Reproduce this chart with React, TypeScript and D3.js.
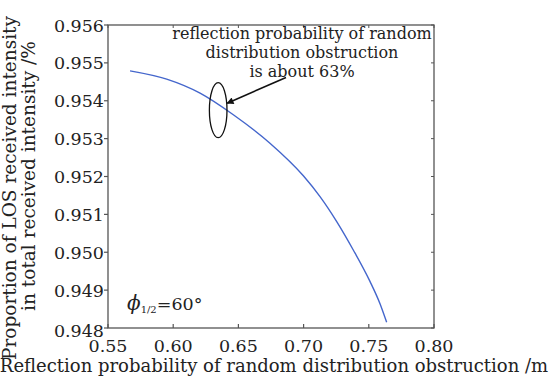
import React from "react";
import * as d3 from "d3";

const xValues = [0.5669, 0.5950, 0.6206, 0.6461, 0.6742, 0.6998, 0.7126, 0.7254, 0.7381, 0.7509, 0.7586, 0.7637];
const yValues = [0.95479, 0.95457, 0.95420, 0.95363, 0.95288, 0.95202, 0.95147, 0.95081, 0.95006, 0.94923, 0.94864, 0.94815];
const xTicks = [0.55, 0.6, 0.65, 0.7, 0.75, 0.8];
const yTicks = [0.948, 0.949, 0.95, 0.951, 0.952, 0.953, 0.954, 0.955, 0.956];
const annotationLines = ["reflection probability of random", "distribution obstruction", "is about 63%"];
const markPoint = { x: 0.6345, y: 0.95375 };

const W = 553;
const H = 380;
const FONT = "'DejaVu Serif', serif";

export default function App() {
  const x = d3.scaleLinear().domain([0.55, 0.8]).range([108, 434]);
  const y = d3.scaleLinear().domain([0.948, 0.956]).range([328, 25]);
  const data = xValues.map((v, i) => [v, yValues[i]] as [number, number]);
  const line = d3
    .line<[number, number]>()
    .x((d) => x(d[0]))
    .y((d) => y(d[1]))
    .curve(d3.curveMonotoneX);

  const [x0, x1] = x.range();
  const [y0, y1] = y.range();
  const ex = x(markPoint.x);
  const ey = y(markPoint.y);

  return (
    <svg
      width={W}
      height={H}
      style={{ position: "absolute", left: 0, top: 0, background: "#fff" }}
      fontFamily={FONT}
    >
      <defs>
        <marker id="ah" viewBox="0 0 10 10" refX="9" refY="5" markerWidth="9" markerHeight="7" orient="auto" markerUnits="userSpaceOnUse">
          <path d="M0,0 L10,5 L0,10 z" fill="#111" />
        </marker>
      </defs>
      {/* frame */}
      <rect x={x0} y={y1} width={x1 - x0} height={y0 - y1} fill="none" stroke="#555" strokeWidth={1.3} />
      {/* x ticks */}
      {xTicks.map((t) => (
        <g key={"xt" + t}>
          <line x1={x(t)} x2={x(t)} y1={y0} y2={y0 - 4} stroke="#555" strokeWidth={1.2} />
          <line x1={x(t)} x2={x(t)} y1={y1} y2={y1 + 3} stroke="#555" strokeWidth={1} />
          <text x={x(t)} y={352} textAnchor="middle" fontSize={17.5} fill="#222">
            {t.toFixed(2)}
          </text>
        </g>
      ))}
      {/* y ticks */}
      {yTicks.map((t) => (
        <g key={"yt" + t}>
          <line x1={x0} x2={x0 - 4} y1={y(t)} y2={y(t)} stroke="#555" strokeWidth={1.2} />
          <line x1={x1} x2={x1 - 3} y1={y(t)} y2={y(t)} stroke="#555" strokeWidth={1} />
          <text x={104} y={y(t) + (t === 0.948 ? 9 : 6.5)} textAnchor="end" fontSize={17.5} fill="#222">
            {t.toFixed(3)}
          </text>
        </g>
      ))}
      {/* curve */}
      <path d={line(data) || ""} fill="none" stroke="#4466cc" strokeWidth={1.4} />
      {/* annotation */}
      <ellipse cx={ex} cy={ey} rx={8.8} ry={27.5} fill="none" stroke="#111" strokeWidth={1.3} />
      <line x1={286} x2={ex + 9} y1={77.5} y2={ey - 7} stroke="#111" strokeWidth={1.6} markerEnd="url(#ah)" />
      {annotationLines.map((s, i) => (
        <text key={s} x={302} y={39 + i * 19} textAnchor="middle" fontSize={16} fill="#222">
          {s}
        </text>
      ))}
      {/* phi label */}
      <text x={127} y={310} fontSize={20} fill="#222">
        <tspan fontStyle="italic">ϕ</tspan>
        <tspan fontSize={10} dy={3}>1/2</tspan>
        <tspan fontSize={17.5} dy={-3}>=60°</tspan>
      </text>
      {/* axis titles */}
      <text x={274} y={372} textAnchor="middle" fontSize={18} fill="#222">
        Reflection probability of random distribution obstruction /m
      </text>
      <text transform="translate(16,188) rotate(-90)" textAnchor="middle" fontSize={18.5} fill="#222">
        Proportion of LOS received intensity
      </text>
      <text transform="translate(35,176) rotate(-90)" textAnchor="middle" fontSize={18.5} fill="#222">
        in total received intensity /%
      </text>
    </svg>
  );
}
